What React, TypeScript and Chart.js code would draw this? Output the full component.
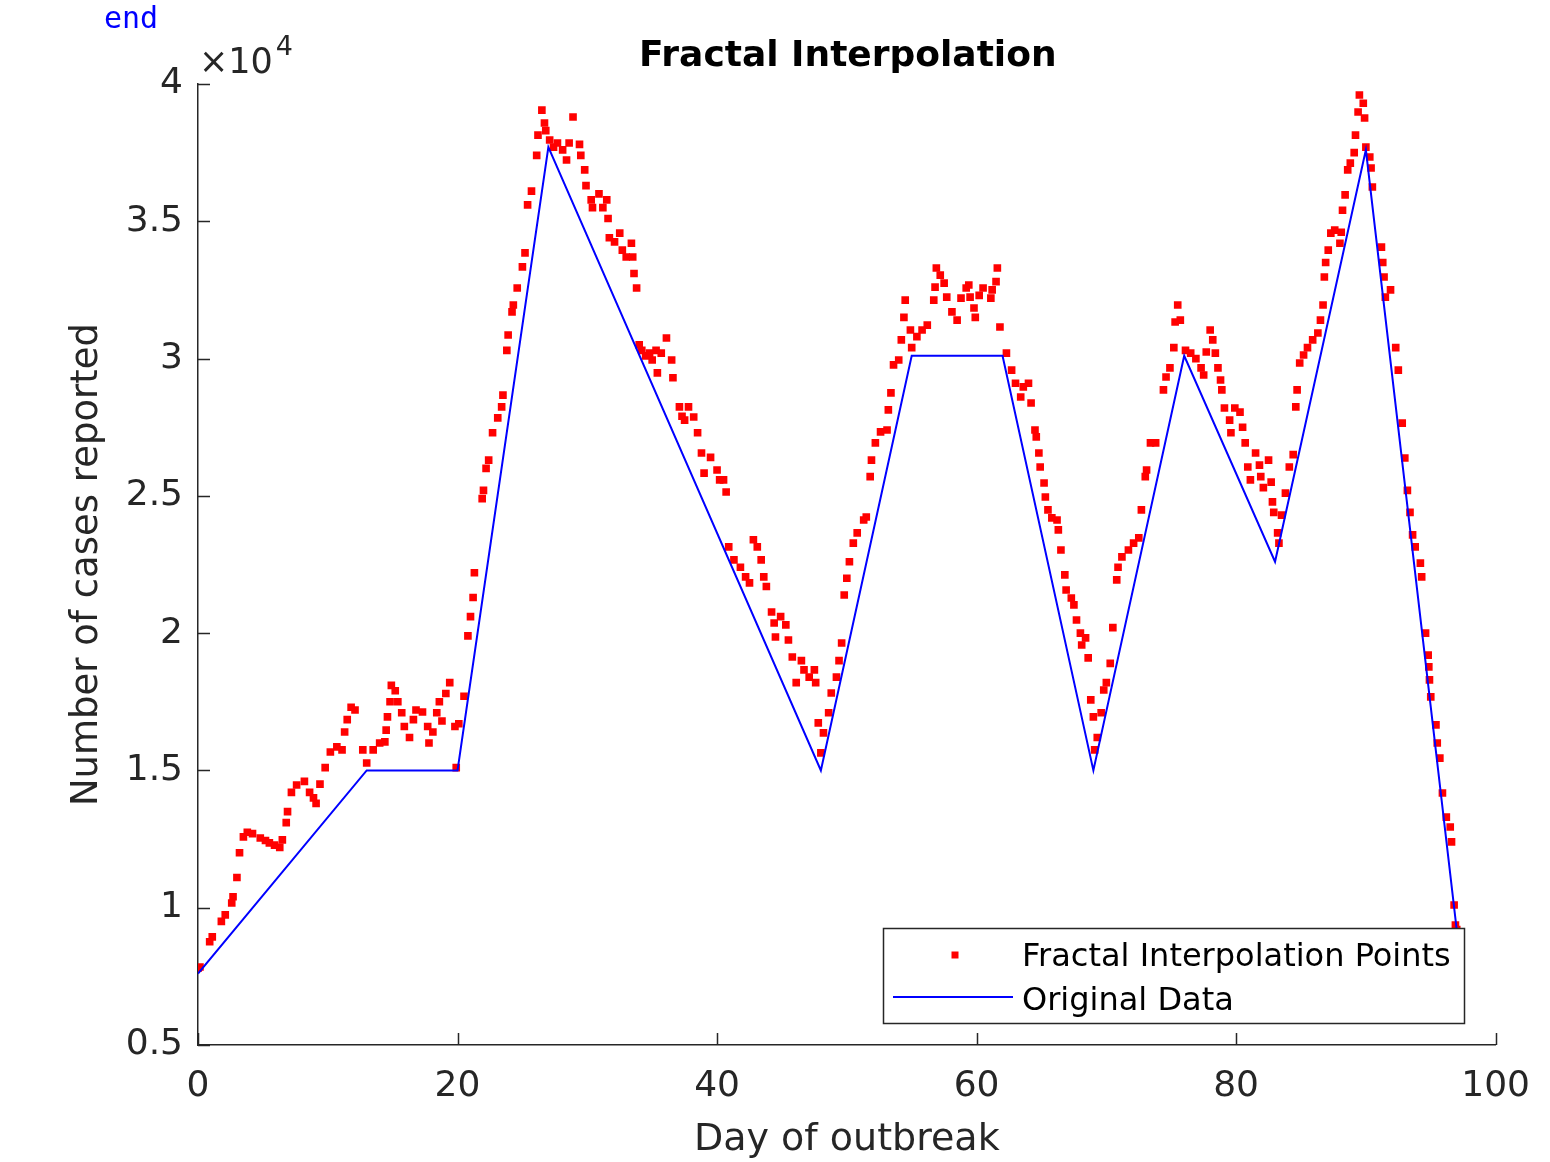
import React, { useEffect, useRef } from "react";
import { Chart, registerables } from "chart.js";

Chart.register(...registerables);

// ---- Data ----
const originalDays = [0, 13, 20, 27, 48, 55, 62, 69, 76, 83, 90, 97];
const originalCases = [7600, 15000, 15000, 37700, 15000, 30100, 30100, 15000, 30100, 22600, 37600, 9200];

const fractalDays = [
  0.0, 0.15, 0.9, 1.1, 1.8, 2.1, 2.6, 2.7, 3.0, 3.2, 3.5, 3.8, 4.2, 4.8, 5.2, 5.5, 5.9, 6.3, 6.5, 6.8,
  6.9, 7.2, 7.6, 8.2, 8.6, 8.9, 9.1, 9.4, 9.8, 10.2, 10.7, 11.1, 11.3, 11.5, 11.8, 12.1, 12.7, 13.0, 13.5, 14.0,
  14.4, 14.5, 14.6, 14.8, 14.9, 15.2, 15.4, 15.7, 15.9, 16.3, 16.6, 16.8, 17.3, 17.7, 17.8, 18.1, 18.4, 18.6, 18.8, 19.1,
  19.4, 19.8, 19.9, 20.1, 20.5, 20.8, 21.0, 21.2, 21.3, 21.9, 22.0, 22.2, 22.4, 22.7, 23.1, 23.4, 23.5, 23.8, 23.9, 24.2,
  24.3, 24.6, 25.0, 25.2, 25.4, 25.7, 26.1, 26.2, 26.5, 26.7, 26.8, 27.1, 27.4, 27.7, 28.1, 28.4, 28.6, 28.9, 29.4, 29.5,
  29.8, 29.9, 30.3, 30.4, 30.9, 31.2, 31.5, 31.6, 31.7, 32.1, 32.5, 32.7, 33.0, 33.4, 33.5, 33.6, 33.8, 34.0, 34.2, 34.5,
  34.8, 35.0, 35.3, 35.4, 35.7, 36.1, 36.5, 36.6, 37.1, 37.3, 37.5, 37.8, 38.2, 38.5, 38.8, 39.0, 39.5, 40.0, 40.2, 40.5,
  40.7, 40.9, 41.3, 41.8, 42.2, 42.5, 42.8, 43.1, 43.4, 43.6, 43.8, 44.2, 44.4, 44.5, 44.9, 45.3, 45.5, 45.8, 46.1, 46.5,
  46.7, 47.1, 47.5, 47.6, 47.8, 48.0, 48.2, 48.6, 48.8, 49.2, 49.4, 49.6, 49.8, 50.0, 50.2, 50.5, 50.8, 51.3, 51.5, 51.8,
  51.9, 52.2, 52.6, 53.1, 53.2, 53.4, 53.6, 54.0, 54.2, 54.4, 54.5, 54.9, 55.0, 55.4, 55.8, 56.2, 56.7, 56.8, 56.9, 57.2,
  57.5, 57.7, 58.1, 58.5, 58.8, 59.2, 59.4, 59.5, 59.8, 59.9, 60.2, 60.5, 61.1, 61.2, 61.5, 61.6, 61.8, 62.3, 62.7, 63.0,
  63.4, 63.6, 64.0, 64.2, 64.5, 64.6, 64.8, 64.9, 65.2, 65.3, 65.5, 65.8, 66.2, 66.3, 66.5, 66.8, 66.9, 67.3, 67.5, 67.7,
  68.0, 68.1, 68.4, 68.6, 68.8, 69.0, 69.1, 69.3, 69.6, 69.8, 70.0, 70.3, 70.5, 70.8, 70.9, 71.2, 71.7, 72.1, 72.5, 72.7,
  73.0, 73.1, 73.4, 73.8, 74.4, 74.6, 74.9, 75.2, 75.3, 75.5, 75.7, 76.1, 76.5, 76.9, 77.3, 77.5, 77.7, 78.0, 78.2, 78.4,
  78.6, 78.8, 78.9, 79.1, 79.5, 79.6, 79.9, 80.3, 80.5, 80.7, 80.9, 81.1, 81.5, 81.8, 81.9, 82.1, 82.5, 82.7, 82.8, 82.9,
  83.2, 83.3, 83.5, 83.8, 84.1, 84.4, 84.6, 84.7, 84.9, 85.2, 85.5, 85.9, 86.3, 86.5, 86.7, 86.8, 86.9, 87.1, 87.3, 87.6,
  88.0, 88.1, 88.2, 88.4, 88.6, 88.8, 89.1, 89.2, 89.4, 89.5, 89.8, 89.9, 90.0, 90.3, 90.4, 90.5, 91.2, 91.3, 91.4, 91.5,
  91.9, 92.3, 92.5, 92.8, 93.0, 93.2, 93.4, 93.6, 93.8, 94.2, 94.3, 94.6, 94.8, 94.85, 94.9, 95.0, 95.4, 95.5, 95.7, 95.9,
  96.2, 96.5, 96.6, 96.8, 96.9, 97.0,
];

const fractalCases = [
  7800, 7840, 8760, 8940, 9500, 9740, 10170, 10400, 11100, 12000, 12580, 12750, 12700, 12540, 12450, 12360, 12280, 12200, 12470, 13100,
  13500, 14200, 14470, 14600, 14200, 14000, 13800, 14500, 15100, 15670, 15860, 15750, 16400, 16850, 17300, 17200, 15750, 15270, 15750, 16000,
  16040, 16470, 16950, 17500, 18100, 17900, 17500, 17100, 16600, 16200, 16850, 17200, 17130, 16600, 16000, 16400, 17100, 17500, 16800, 17800,
  18200, 16600, 15100, 16700, 17700, 19900, 20600, 21300, 22200, 24900, 25200, 26000, 26300, 27300, 27840, 28240, 28670, 30300, 30860, 31700,
  31950, 32570, 33340, 33850, 35600, 36100, 37400, 38140, 39050, 38580, 38300, 37960, 37700, 37850, 37600, 37230, 37850, 38800, 37800, 37400,
  36870, 36300, 35780, 35500, 36000, 35500, 35780, 35100, 34400, 34250, 34570, 33950, 33700, 34200, 33700, 33100, 32570, 30500, 30300, 30100,
  30200, 29950, 30300, 29480, 30200, 30750, 29950, 29300, 28240, 27900, 27760, 28240, 27870, 27300, 26560, 25830, 26400, 25940, 25580, 25580,
  25140, 23140, 22670, 22400, 22050, 21830, 23400, 23140, 22670, 22050, 21700, 20770, 20370, 19860, 20600, 20300, 19750, 19130, 18200, 19000,
  18660, 18400, 18660, 18200, 16730, 15640, 16370, 17100, 17820, 18400, 19000, 19640, 21390, 22000, 22600, 23280, 23650, 24120, 24230, 25700,
  26300, 26930, 27330, 27400, 28130, 28750, 29770, 29950, 30680, 31500, 32130, 31040, 30400, 30800, 31040, 31220, 32130, 32600, 33300, 33040,
  32750, 32240, 31700, 31400, 32200, 32570, 32680, 32240, 31840, 31500, 32300, 32570, 32200, 32500, 32800, 33300, 31150, 30200, 29580, 29100,
  28600, 28970, 29100, 28380, 27400, 27150, 26560, 26050, 25470, 24960, 24490, 24200, 24120, 23760, 23030, 22120, 21570, 21280, 21030, 20480,
  20000, 19570, 19830, 19100, 17570, 16950, 15750, 16200, 17100, 17930, 18200, 18900, 20200, 21940, 22400, 22780, 23030, 23280, 23470, 24490,
  25700, 25940, 26930, 26930, 28860, 29330, 29660, 30400, 31330, 31950, 31400, 30300, 30200, 30000, 29660, 29400, 30240, 31040, 30680, 30200,
  29660, 29220, 28860, 28200, 27760, 27300, 28200, 28050, 27500, 26930, 26050, 25580, 26560, 26120, 25700, 25300, 26300, 25500, 24780, 24400,
  23650, 23280, 24300, 25100, 26050, 26500, 28240, 28860, 29840, 30130, 30400, 30680, 30930, 31400, 31950, 32970, 33500, 33950, 34570, 34680,
  34200, 34600, 35400, 35960, 36870, 37120, 37500, 38140, 38980, 39600, 39300, 38760, 37700, 37340, 36940, 36250, 34060, 33500, 32970, 32240,
  32500, 30400, 29580, 27650, 26380, 25200, 24400, 23580, 23140, 22550, 22050, 20000, 19200, 18770, 18300, 17680, 16660, 16000, 15450, 14180,
  13300, 12940, 12400, 10100, 9370, 9200,
];

const xTickValues = [0, 20, 40, 60, 80, 100];
const xTickLabels = ["0", "20", "40", "60", "80", "100"];
const yTickValues = [5000, 10000, 15000, 20000, 25000, 30000, 35000, 40000];
const yTickLabels = ["0.5", "1", "1.5", "2", "2.5", "3", "3.5", "4"];

const chartTitle = "Fractal Interpolation";
const xAxisTitle = "Day of outbreak";
const yAxisTitle = "Number of cases reported";
const fractalLabel = "Fractal Interpolation Points";
const originalLabel = "Original Data";

// ---- Styles ----
const FONT = "'DejaVu Sans', 'Liberation Sans', Arial, sans-serif";
const AXIS = "#262626";
const RED = "#ff0000";
const BLUE = "#0000ff";

const innerTicks = {
  id: "innerTicks",
  afterDraw(chart: any) {
    const { ctx, chartArea, scales } = chart;
    const x = scales.x;
    const y = scales.y;
    ctx.save();
    ctx.strokeStyle = AXIS;
    ctx.lineWidth = 1.5;
    ctx.beginPath();
    x.ticks.forEach((t: any) => {
      const px = Math.round(x.getPixelForValue(t.value)) + 0.5;
      ctx.moveTo(px, chartArea.bottom);
      ctx.lineTo(px, chartArea.bottom - 12);
    });
    y.ticks.forEach((t: any) => {
      const py = Math.round(y.getPixelForValue(t.value)) + 0.5;
      ctx.moveTo(chartArea.left, py);
      ctx.lineTo(chartArea.left + 12, py);
    });
    ctx.stroke();
    ctx.restore();
  },
};

const decorations = {
  id: "decorations",
  afterDraw(chart: any) {
    const { ctx, chartArea } = chart;
    ctx.save();

    // Editor remnant text at top-left
    ctx.fillStyle = BLUE;
    ctx.font = "30px 'DejaVu Sans Mono', 'Liberation Mono', monospace";
    ctx.textAlign = "left";
    ctx.textBaseline = "alphabetic";
    ctx.fillText("end", 104, 28);

    // Title
    ctx.fillStyle = "#000000";
    ctx.font = `bold 36px ${FONT}`;
    ctx.textAlign = "center";
    ctx.fillText(chartTitle, (chartArea.left + chartArea.right) / 2 + 1, 66);

    // Exponent label
    ctx.fillStyle = AXIS;
    ctx.textAlign = "left";
    ctx.font = `35px ${FONT}`;
    ctx.fillText("\u00d710", 199, 73);
    const w = ctx.measureText("\u00d710").width;
    ctx.font = `27px ${FONT}`;
    ctx.fillText("4", 199 + w + 3, 55);

    // Legend
    const ds = chart.data.datasets;
    const bx = 883, by = 928, bw = 581, bh = 95;
    ctx.fillStyle = "#ffffff";
    ctx.fillRect(bx, by, bw, bh);
    ctx.strokeStyle = AXIS;
    ctx.lineWidth = 1.5;
    ctx.strokeRect(bx + 0.5, by + 0.5, bw, bh);

    ctx.font = `32px ${FONT}`;
    ctx.textBaseline = "middle";
    ctx.fillStyle = ds[0].pointBackgroundColor;
    ctx.fillRect(955 - 3.5, 955 - 3.5, 7, 7);
    ctx.fillStyle = "#000000";
    ctx.fillText(ds[0].label, 1022, 958);

    ctx.strokeStyle = ds[1].borderColor;
    ctx.lineWidth = 2;
    ctx.beginPath();
    ctx.moveTo(893, 997);
    ctx.lineTo(1013, 997);
    ctx.stroke();
    ctx.fillStyle = "#000000";
    ctx.fillText(ds[1].label, 1022, 1002);

    ctx.restore();
  },
};

export default function App() {
  const canvasRef = useRef<HTMLCanvasElement | null>(null);

  useEffect(() => {
    if (!canvasRef.current) return;
    const chart = new Chart(canvasRef.current, {
      type: "scatter",
      data: {
        datasets: [
          {
            label: fractalLabel,
            data: fractalDays.map((d, i) => ({ x: d, y: fractalCases[i] })),
            showLine: false,
            pointStyle: "rect",
            pointRadius: 5.4,
            pointBackgroundColor: RED,
            pointBorderWidth: 0,
            borderWidth: 0,
            order: 1,
          } as any,
          {
            label: originalLabel,
            data: originalDays.map((d, i) => ({ x: d, y: originalCases[i] })),
            showLine: true,
            borderColor: BLUE,
            borderWidth: 2,
            pointRadius: 0,
            tension: 0,
            fill: false,
            order: 0,
          } as any,
        ],
      },
      options: {
        animation: false,
        responsive: false,
        maintainAspectRatio: false,
        layout: { padding: { top: 84, right: 53, bottom: 0, left: 0 } },
        plugins: {
          legend: { display: false },
          title: { display: false },
          tooltip: { enabled: false },
        },
        scales: {
          x: {
            type: "linear",
            min: 0,
            max: 100,
            afterBuildTicks: (scale: any) => {
              scale.ticks = xTickValues.map((v) => ({ value: v }));
            },
            afterFit: (scale: any) => {
              scale.height = 117;
            },
            grid: { display: true, drawOnChartArea: false, drawTicks: false },
            border: { display: true, color: AXIS, width: 1.5 },
            ticks: {
              color: AXIS,
              font: { family: FONT, size: 36 },
              padding: 20,
              maxRotation: 0,
              autoSkip: false,
              callback: (_v: any, i: number) => xTickLabels[i],
            },
            title: {
              display: true,
              text: xAxisTitle,
              color: AXIS,
              font: { family: FONT, size: 38, lineHeight: 1 },
              padding: { top: 0, bottom: 3 },
            },
          },
          y: {
            type: "linear",
            min: 5000,
            max: 40000,
            afterBuildTicks: (scale: any) => {
              scale.ticks = yTickValues.map((v) => ({ value: v }));
            },
            afterFit: (scale: any) => {
              scale.width = 198;
            },
            grid: { display: true, drawOnChartArea: false, drawTicks: false },
            border: { display: true, color: AXIS, width: 1.5 },
            ticks: {
              color: AXIS,
              font: { family: FONT, size: 36 },
              padding: 15,
              autoSkip: false,
              callback: (_v: any, i: number) => yTickLabels[i],
            },
            title: {
              display: true,
              text: yAxisTitle,
              color: AXIS,
              font: { family: FONT, size: 37, lineHeight: 1 },
              padding: { top: 69, bottom: 0 },
            },
          },
        },
      } as any,
      plugins: [innerTicks, decorations],
    });
    return () => chart.destroy();
  }, []);

  return (
    <div style={{ position: "fixed", left: 0, top: 0, width: 1550, height: 1162, background: "#ffffff" }}>
      <canvas ref={canvasRef} width={1550} height={1162} style={{ display: "block" }} />
    </div>
  );
}
